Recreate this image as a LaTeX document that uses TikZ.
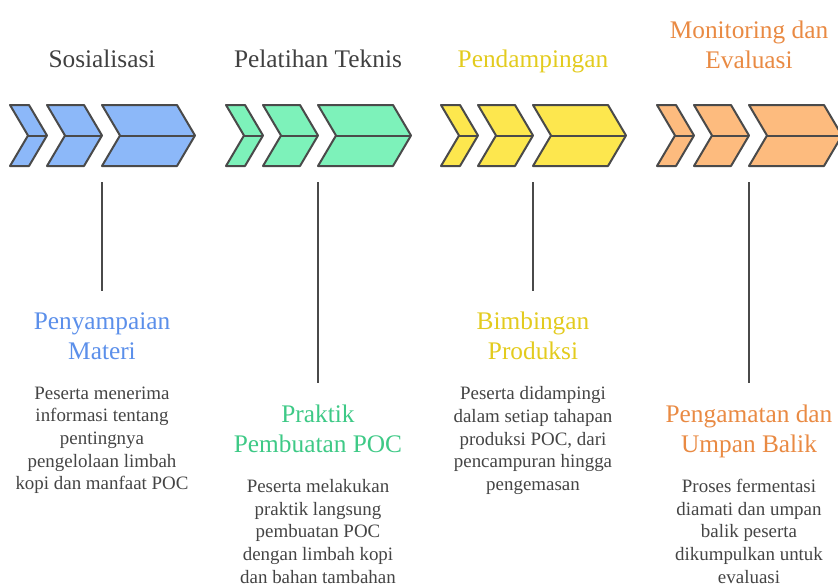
\documentclass[tikz,border=0pt]{standalone}
\usepackage{fontspec}
\setmainfont{Liberation Serif}
\usepackage{xcolor}
\usepackage{tikz}
\usetikzlibrary{positioning}
\definecolor{edge}{HTML}{4A4A4A}
\definecolor{bodygray}{HTML}{444444}
\definecolor{titlegray}{HTML}{404040}
\definecolor{pblue}{HTML}{8CB8F9}
\definecolor{pgreen}{HTML}{7DF2BA}
\definecolor{pyellow}{HTML}{FDE74E}
\definecolor{porange}{HTML}{FDBB7E}
\definecolor{tblue}{HTML}{5B8FEA}
\definecolor{tgreen}{HTML}{3EC986}
\definecolor{tyellow}{HTML}{E3CB1E}
\definecolor{torange}{HTML}{E98A43}
\tikzset{
  chev/.style={draw=edge,line width=1.5pt,line join=round},
  stem/.style={draw=edge,line width=1.5pt,shorten >=16pt},
  ttl/.style={font=\fontsize{19}{22.5}\selectfont,inner sep=0pt,align=center},
  hd/.style={font=\fontsize{19}{22.5}\selectfont,align=center,inner sep=0pt,anchor=north},
  txt/.style={font=\fontsize{14.2}{17}\selectfont,align=center,inner sep=0pt,
    anchor=north,text=bodygray},
}

\begin{document}
\begin{tikzpicture}[x=0.75pt,y=-0.75pt]
\useasboundingbox (0,0) rectangle (838,586);
\clip (0,0) rectangle (838,586);

% three chevrons per phase
\foreach \ox/\cc in {10/pblue,226/pgreen,441/pyellow,657/porange}{
  \foreach \l/\r in {0/37,37/92,92/185}{
    \filldraw[chev,fill=\cc] (\ox+\l,105) -- (\ox+\r-18,105) -- (\ox+\r,135.5)
      -- (\ox+\r-18,166) -- (\ox+\l,166) -- (\ox+\l+18,135.5) -- cycle;
    \draw[chev] (\ox+\l+18,135.5) -- (\ox+\r,135.5);
  }
}

\node[ttl,anchor=base,text=titlegray] (t1) at (102,67) {Sosialisasi};
\node[ttl,anchor=base,text=titlegray] (t2) at (318,67) {Pelatihan Teknis};
\node[ttl,anchor=base,text=tyellow] (t3) at (533,67) {Pendampingan};
\node[ttl,anchor=north,text=torange] (t4) at (749,20.5) {Monitoring dan\\Evaluasi};

\node[hd,text=tblue] (h1) at (102,312) {Penyampaian\\Materi};
\node[hd,text=tgreen] (h2) at (318,404.5) {Praktik\\Pembuatan POC};
\node[hd,text=tyellow] (h3) at (533,312) {Bimbingan\\Produksi};
\node[hd,text=torange] (h4) at (749,404.5) {Pengamatan dan\\Umpan Balik};

\node[txt] (b1) at (102,386.5) {Peserta menerima\\informasi tentang\\pentingnya\\pengelolaan limbah\\kopi dan manfaat POC};
\node[txt] (b2) at (318,479) {Peserta melakukan\\praktik langsung\\pembuatan POC\\dengan limbah kopi\\dan bahan tambahan};
\node[txt] (b3) at (533,386.5) {Peserta didampingi\\dalam setiap tahapan\\produksi POC, dari\\pencampuran hingga\\pengemasan};
\node[txt] (b4) at (749,479) {Proses fermentasi\\diamati dan umpan\\balik peserta\\dikumpulkan untuk\\evaluasi};

\coordinate (s1) at (102,182);
\coordinate (s2) at (318,182);
\coordinate (s3) at (533,182);
\coordinate (s4) at (749,182);
\draw[stem] (s1) -- (h1.north);
\draw[stem] (s2) -- (h2.north);
\draw[stem] (s3) -- (h3.north);
\draw[stem] (s4) -- (h4.north);
\end{tikzpicture}
\end{document}
